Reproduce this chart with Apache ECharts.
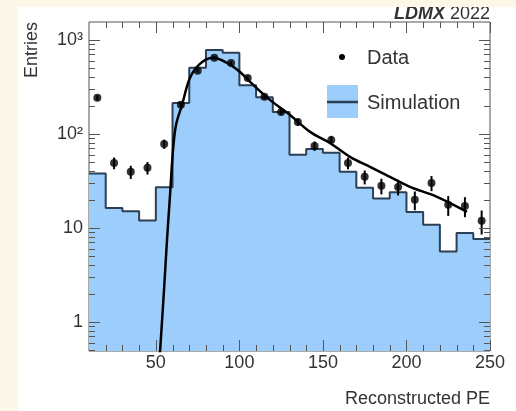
<!DOCTYPE html>
<html>
<head>
<meta charset="utf-8">
<script src="https://cdn.jsdelivr.net/npm/echarts@6/dist/echarts.min.js"></script>
<style>
  html, body { margin: 0; padding: 0; background: #fdf7ea; }
  #main { position: absolute; left: 18px; top: 7px; width: 498px; height: 404px; background: #fff; }
</style>
</head>
<body>
<div id="main"></div>
<script>
// histogram bins (low edges), simulation counts
var binLow = [10, 20, 30, 40, 50, 60, 70, 80, 90, 100, 110, 120, 130, 140, 150, 160, 170, 180, 190, 200, 210, 220, 230, 240];
var simCounts = [38, 16.3, 15, 12, 27, 213, 505, 783, 730, 330, 246, 171, 60, 69, 63, 39.5, 26.7, 20.5, 24, 14.8, 10.8, 5.6, 8.8, 7.6];
// data points (bin centres), counts and errors
var dataX = [15, 25, 35, 45, 55, 65, 75, 85, 95, 105, 115, 125, 135, 145, 155, 165, 175, 185, 195, 205, 215, 225, 235, 245];
var dataY = [242, 49, 39.5, 43.5, 78, 204, 470, 644, 569, 394, 248, 171, 134, 74.5, 86, 49, 34.9, 28, 27.3, 19.9, 30.1, 17.6, 17.1, 11.9];
var dataErr = [15.6, 7, 6.3, 6.6, 8.8, 14.3, 21.7, 25.4, 23.9, 19.8, 15.7, 13.1, 11.6, 8.6, 9.3, 7, 5.9, 5.3, 5.2, 4.5, 5.5, 4.2, 4.1, 3.4];
// fitted curve
var fitX = [52.3, 54.9, 56.7, 58.5, 60.3, 62.1, 65.7, 70.4, 76.4, 84.2, 92.6, 100.4, 106.4, 118.3, 130.3, 142.3, 154.2, 166.2, 178.2, 190.1, 202.1, 218.3, 236.2];
var fitY = [0.42, 2.19, 7.5, 22.4, 67.6, 125, 204, 394, 556, 644, 569, 455, 357, 230, 159, 105, 80, 57, 44.5, 34.9, 27.3, 21.4, 14.8];
// ticks
var xMajor = [50, 100, 150, 200, 250];
var xMinor = [20, 30, 40, 60, 70, 80, 90, 110, 120, 130, 140, 160, 170, 180, 190, 210, 220, 230, 240];
var yMajor = [1, 10, 100, 1000];
var yMinor = [0.5, 0.6, 0.7, 0.8, 0.9, 2, 3, 4, 5, 6, 7, 8, 9, 20, 30, 40, 50, 60, 70, 80, 90, 200, 300, 400, 500, 600, 700, 800, 900];
var yLabels = {1: '1', 10: '10', 100: '10²', 1000: '10³'};

var font = 'Liberation Sans, Arial, Helvetica, sans-serif';
var frameColor = '#555';
var fillColor = '#9dcdfb';
var outlineColor = '#2b3f55';

var chart = echarts.init(document.getElementById('main'));

var histData = [];
for (var i = 0; i < binLow.length; i++) {
	histData.push([binLow[i], simCounts[i]]);
}
histData.push([250, simCounts[simCounts.length - 1]]);

var pts = [], errs = [], fit = [];
for (var i = 0; i < dataX.length; i++) {
	pts.push([dataX[i], dataY[i]]);
	errs.push([dataX[i], dataY[i] - dataErr[i], dataY[i] + dataErr[i]]);
}
for (var i = 0; i < fitX.length; i++) {
	fit.push([fitX[i], fitY[i]]);
}

// tick marks drawn inside the frame, ROOT style, on all four sides
var tickData = [];
xMajor.forEach(function (v) { tickData.push([v, 0, 11]); });
xMinor.forEach(function (v) { tickData.push([v, 0, 6]); });
yMajor.forEach(function (v) { tickData.push([v, 1, 11]); });
yMinor.forEach(function (v) { tickData.push([v, 1, 6]); });

function xAxisDef(pos) {
	return {
		type: 'value', position: pos, min: 10, max: 250,
		axisLine: {show: false},
		splitLine: {show: false},
		axisTick: {show: false},
		axisLabel: pos === 'bottom' ? {show: true, customValues: xMajor, margin: 3,
			color: '#333', fontSize: 18, fontFamily: font} : {show: false}
	};
}

var option = {
	animation: false,
	grid: {left: 71, top: 15, right: 26, bottom: 60, show: true,
		borderColor: frameColor, borderWidth: 1, backgroundColor: 'transparent'},
	xAxis: [xAxisDef('bottom')],
	yAxis: [{
		type: 'log', logBase: 10, min: 0.49, max: 1550,
		axisLine: {show: false},
		splitLine: {show: false},
		minorTick: {show: false},
		axisTick: {show: false},
		axisLabel: {show: true, customValues: yMajor, margin: 6,
			color: '#333', fontSize: 18, fontFamily: font,
			formatter: function (v) { return yLabels[Math.round(v)] || ''; }}
	}],
	series: [
		{
			name: 'Simulation', type: 'line', step: 'end', data: histData,
			symbol: 'none', z: 1,
			lineStyle: {color: outlineColor, width: 2},
			areaStyle: {color: fillColor, opacity: 1, origin: 'start'}
		},
		{
			name: 'Fit', type: 'line', smooth: 0.35, data: fit, symbol: 'none', z: 3,
			lineStyle: {color: '#000', width: 2.5}
		},
		{
			name: 'DataErr', type: 'custom', data: errs, z: 4,
			encode: {x: 0, y: [1, 2]},
			renderItem: function (params, api) {
				var p1 = api.coord([api.value(0), api.value(1)]);
				var p2 = api.coord([api.value(0), api.value(2)]);
				return {type: 'line', shape: {x1: p1[0], y1: p1[1], x2: p2[0], y2: p2[1]},
					style: {stroke: '#000', lineWidth: 2}};
			}
		},
		{
			name: 'Data', type: 'scatter', data: pts, symbol: 'circle', symbolSize: 8, z: 5,
			itemStyle: {color: '#000'}
		},
		{
			name: 'Ticks', type: 'custom', data: tickData, z: 6, silent: true, clip: false,
			encode: {x: 0},
			renderItem: function (params, api) {
				var v = api.value(0), isY = api.value(1) === 1, len = api.value(2);
				var cs = params.coordSys;
				var style = {stroke: frameColor, lineWidth: 1};
				var a, b;
				if (!isY) {
					var x = Math.round(api.coord([v, 1])[0]) + 0.5;
					a = {x1: x, y1: cs.y + cs.height, x2: x, y2: cs.y + cs.height - len};
					b = {x1: x, y1: cs.y, x2: x, y2: cs.y + len};
				} else {
					var y = Math.round(api.coord([10, v])[1]) + 0.5;
					a = {x1: cs.x, y1: y, x2: cs.x + len, y2: y};
					b = {x1: cs.x + cs.width, y1: y, x2: cs.x + cs.width - len, y2: y};
				}
				return {type: 'group', children: [
					{type: 'line', shape: a, style: style},
					{type: 'line', shape: b, style: style}
				]};
			}
		}
	],
	graphic: [
		{type: 'text', right: 26, top: -2, style: {
			text: '{b|LDMX} 2022', fill: '#333', font: '18px ' + font,
			rich: {b: {fontWeight: 'bold', fontStyle: 'italic', fontSize: 18, fontFamily: font, fill: '#333'}}}},
		{type: 'text', x: 14, y: 15, rotation: Math.PI / 2, style: {
			text: 'Entries', fill: '#333', font: '18px ' + font, align: 'right', verticalAlign: 'middle'}},
		{type: 'text', x: 472, y: 392, style: {
			text: 'Reconstructed PE', fill: '#333', font: '18px ' + font, align: 'right', verticalAlign: 'middle'}},
		// legend
		{type: 'circle', shape: {cx: 324, cy: 50, r: 3}, style: {fill: '#000'}, z: 10},
		{type: 'text', x: 349, y: 51, z: 10, style: {
			text: 'Data', fill: '#333', font: '20px ' + font, verticalAlign: 'middle'}},
		{type: 'rect', shape: {x: 309, y: 78, width: 31, height: 33}, style: {fill: fillColor}, z: 10},
		{type: 'line', shape: {x1: 309, y1: 95, x2: 340, y2: 95}, style: {stroke: outlineColor, lineWidth: 2.5}, z: 10},
		{type: 'text', x: 349, y: 96, z: 10, style: {
			text: 'Simulation', fill: '#333', font: '20px ' + font, verticalAlign: 'middle'}}
	]
};

chart.setOption(option);
window.onresize = function () { chart.resize(); };
</script>
</body>
</html>
